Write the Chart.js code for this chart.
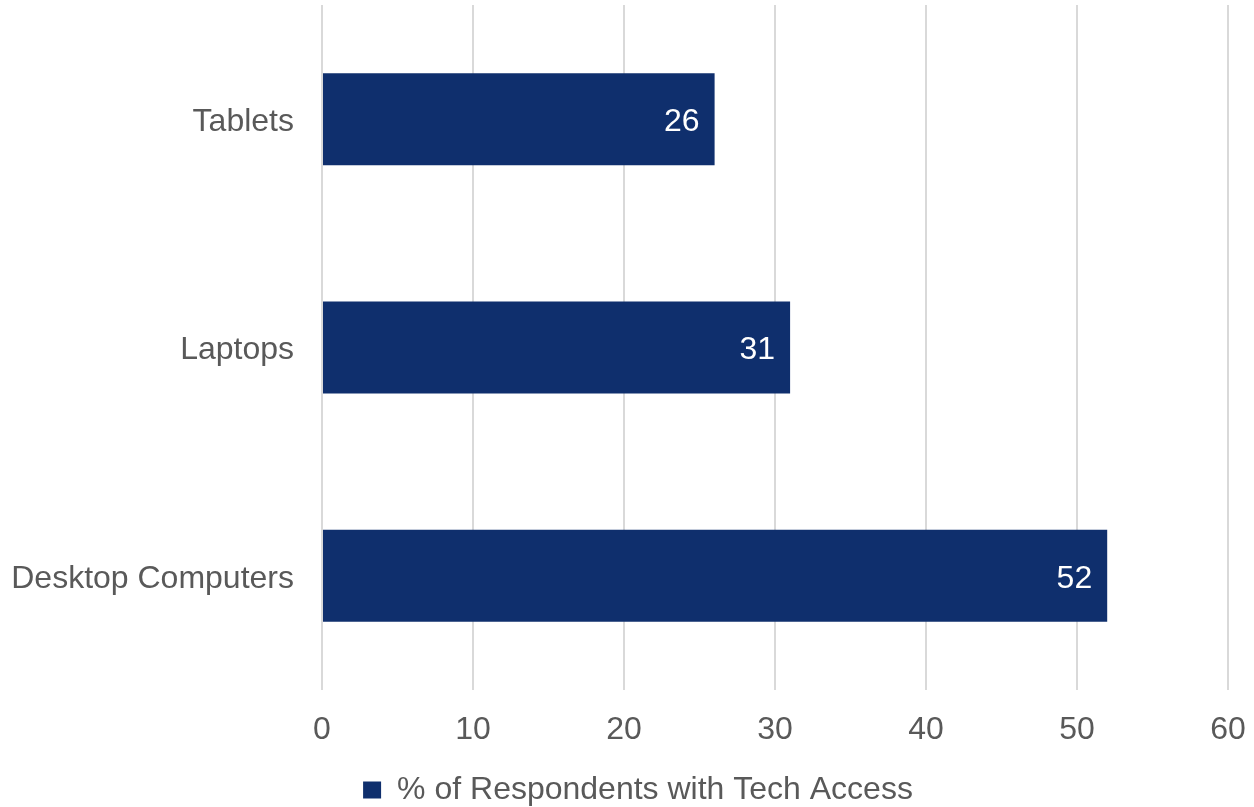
<!DOCTYPE html>
<html>
<head>
<meta charset="utf-8">
<script src="https://cdn.jsdelivr.net/npm/chart.js@4/dist/chart.umd.min.js"></script>
<style>
  html, body { margin: 0; padding: 0; background: #ffffff; }
  #wrap { width: 1254px; height: 807px; }
</style>
</head>
<body>
<div id="wrap"><canvas id="chart" width="1254" height="807"></canvas></div>
<script>
const categories = ['Tablets', 'Laptops', 'Desktop Computers'];
const accessValues = [26, 31, 52];
const seriesLabel = '% of Respondents with Tech Access';
const xTicks = [0, 10, 20, 30, 40, 50, 60];

const BAR_COLOR = '#0f2f6d';
const TEXT_COLOR = '#595959';
const FONT_FAMILY = '"Liberation Sans", Arial, sans-serif';
const FONT_SIZE = 32;

// white value labels at the inside end of each bar
const valueLabels = {
  id: 'valueLabels',
  afterDatasetsDraw(chart) {
    const { ctx } = chart;
    const meta = chart.getDatasetMeta(0);
    ctx.save();
    ctx.font = `${FONT_SIZE}px ${FONT_FAMILY}`;
    ctx.fillStyle = '#ffffff';
    ctx.textAlign = 'right';
    ctx.textBaseline = 'middle';
    meta.data.forEach((bar, i) => {
      ctx.fillText(String(accessValues[i]), bar.x - 15, bar.y + 3);
    });
    ctx.restore();
  },
};

// nudge the legend a bit right, the source centres it with a tighter box gap
const legendShift = {
  id: 'legendShift',
  afterLayout(chart) {
    if (chart.legend) {
      chart.legend.left += 24;
      chart.legend.right += 24;
    }
  },
};

new Chart(document.getElementById('chart'), {
  type: 'bar',
  data: {
    labels: categories,
    datasets: [{
      label: seriesLabel,
      data: accessValues,
      backgroundColor: BAR_COLOR,
      borderWidth: 0,
      categoryPercentage: 1,
      barPercentage: 0.403,
    }],
  },
  options: {
    indexAxis: 'y',
    responsive: false,
    animation: false,
    layout: {
      padding: { top: 5, right: 26, bottom: -9, left: 0 },
    },
    plugins: {
      tooltip: { enabled: false },
      legend: {
        position: 'bottom',
        labels: {
          color: TEXT_COLOR,
          font: { family: FONT_FAMILY, size: FONT_SIZE },
          boxWidth: 18,
          boxHeight: 17,
          padding: 4,
        },
      },
    },
    scales: {
      x: {
        min: 0,
        max: 60,
        afterBuildTicks(scale) {
          scale.ticks = xTicks.map((value) => ({ value }));
        },
        afterFit(scale) {
          scale.height = 80;
          scale.paddingLeft = 0;
          scale.paddingRight = 0;
        },
        grid: {
          color: '#d9d9d9',
          lineWidth: 2,
          drawTicks: false,
        },
        border: { display: false },
        ticks: {
          color: TEXT_COLOR,
          font: { family: FONT_FAMILY, size: FONT_SIZE },
          padding: 21,
        },
      },
      y: {
        afterFit(scale) {
          scale.width = 322;
          scale.paddingTop = 0;
          scale.paddingBottom = 0;
        },
        grid: { display: false, drawTicks: false },
        border: { display: false },
        ticks: {
          color: TEXT_COLOR,
          font: { family: FONT_FAMILY, size: FONT_SIZE },
          padding: 28,
          labelOffset: 3,
        },
      },
    },
  },
  plugins: [valueLabels, legendShift],
});
</script>
</body>
</html>
